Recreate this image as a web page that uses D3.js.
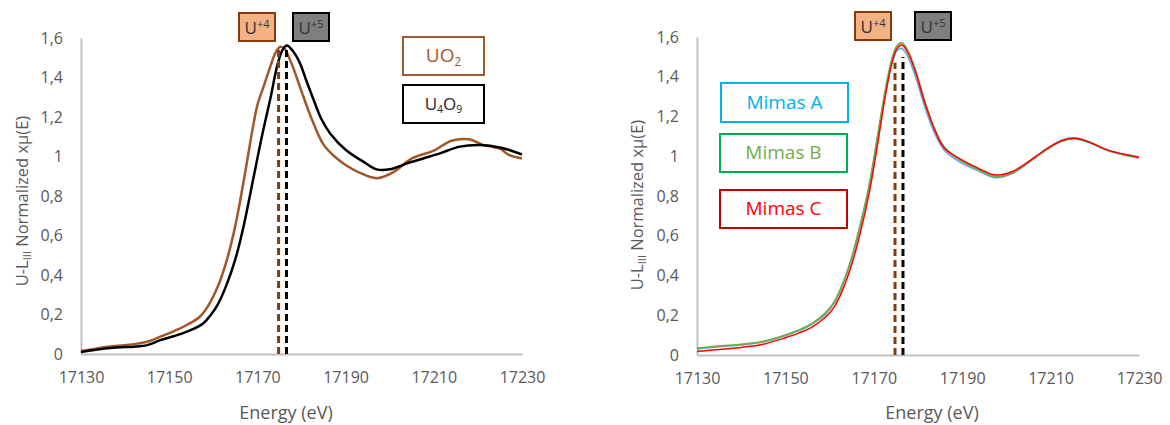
<!DOCTYPE html>
<html><head><meta charset="utf-8">
<script src="https://cdn.jsdelivr.net/npm/d3@7"></script>
<style>
body{margin:0;background:#fff;}
svg{display:block;font-family:"Open Sans",sans-serif;}
</style></head>
<body><svg id="c" width="1170" height="425"></svg>
<script>
// ---------- data ----------
const xTicks = [17130, 17150, 17170, 17190, 17210, 17230];
const yTicks = [0, 0.2, 0.4, 0.6, 0.8, 1, 1.2, 1.4, 1.6];

const energyUO2 = [17130,17133,17136,17139,17142,17145,17148,17151,17154,17157,17159,17161,17163,17165,17167,17169,17170,17171.5,17173,17174.2,17175.2,17176.2,17177.2,17178.2,17180,17182.5,17185,17187.5,17190,17193,17197,17201,17205,17210,17214,17218,17221,17223,17225,17227,17230];
const valuesUO2 = [0.015,0.025,0.037,0.043,0.05,0.062,0.088,0.115,0.147,0.19,0.25,0.34,0.47,0.65,0.89,1.15,1.26,1.36,1.46,1.53,1.556,1.545,1.5,1.445,1.33,1.18,1.06,1.0,0.957,0.92,0.89,0.923,0.99,1.03,1.08,1.087,1.06,1.05,1.04,1.008,0.99];

const energyU4O9 = [17130,17133,17136,17139,17142,17145,17148,17151,17154,17157.7,17159.5,17161,17163,17165,17167,17169,17171,17173,17174.5,17175.7,17176.7,17178,17179.7,17181,17182.7,17184.5,17186.5,17190.2,17194,17197,17200,17203.9,17207.6,17211.4,17215.9,17220.5,17225,17230];
const valuesU4O9 = [0.01,0.02,0.029,0.034,0.037,0.045,0.07,0.09,0.113,0.155,0.2,0.25,0.35,0.48,0.66,0.88,1.1,1.3,1.46,1.54,1.562,1.535,1.47,1.39,1.29,1.19,1.117,1.03,0.974,0.935,0.935,0.965,0.99,1.016,1.05,1.058,1.046,1.01];

const energyMimas = [17130,17135,17140,17145,17150,17153,17156,17159,17161,17163,17165,17167,17169,17171,17172.5,17174,17175.2,17176.3,17177.5,17179.3,17181.6,17183.8,17186,17190,17193.6,17197.4,17201.2,17205,17208.7,17212.5,17215.5,17218.5,17223,17227.6,17230];
const mimasA = [0.03,0.042,0.051,0.066,0.098,0.122,0.155,0.205,0.26,0.355,0.485,0.655,0.85,1.11,1.3,1.46,1.53,1.543,1.51,1.41,1.245,1.115,1.03,0.965,0.928,0.893,0.912,0.968,1.03,1.08,1.092,1.072,1.028,1.002,0.99];
const mimasB = [0.034,0.045,0.053,0.068,0.1,0.125,0.158,0.21,0.265,0.36,0.49,0.66,0.86,1.12,1.32,1.48,1.555,1.571,1.54,1.44,1.27,1.135,1.045,0.975,0.935,0.898,0.915,0.97,1.028,1.076,1.088,1.072,1.03,1.004,0.994];
const mimasC = [0.017,0.028,0.038,0.054,0.087,0.11,0.14,0.19,0.24,0.33,0.455,0.62,0.82,1.08,1.29,1.46,1.54,1.56,1.53,1.434,1.266,1.132,1.04,0.98,0.94,0.906,0.922,0.973,1.031,1.078,1.09,1.073,1.031,1.006,0.995];

const markerEnergy = [17174.8, 17176.6];          // U+4, U+5 white lines
const markerTopLeft = [1.54, 1.55];
const markerTopRight = [1.47, 1.50];

// ---------- drawing ----------
const svg = d3.select("#c");
const fmt = v => String(v).replace(".", ",");

function panel(o) {
  const x = d3.scaleLinear().domain([17130, 17230]).range([o.x0, o.x1]);
  const y = d3.scaleLinear().domain([0, 1.6]).range([o.y0, o.y1]);
  const g = svg.append("g");

  // axes
  const ax = g.append("g").attr("transform", `translate(0,${o.y0})`)
    .call(d3.axisBottom(x).tickValues(xTicks).tickSize(0).tickPadding(18).tickFormat(d => d));
  const ay = g.append("g").attr("transform", `translate(${o.x0},0)`)
    .call(d3.axisLeft(y).tickValues(yTicks).tickSize(0).tickPadding(18).tickFormat(fmt));
  [ax, ay].forEach(a => {
    a.select(".domain").attr("stroke", "#bfbfbf").attr("stroke-width", 2);
    a.selectAll("text").attr("fill", "#595959").style("font-size", "16px").style("font-family", "Open Sans");
  });

  // axis titles
  g.append("text").attr("x", o.xlab).attr("y", 419).attr("text-anchor", "middle")
    .attr("fill", "#595959").style("font-size", "18px").text("Energy (eV)");
  const yl = g.append("text").attr("transform", `translate(${o.ylabX},${o.ylabY}) rotate(-90)`)
    .attr("text-anchor", "middle").attr("fill", "#595959").style("font-size", "16.5px");
  yl.append("tspan").text("U-L");
  yl.append("tspan").attr("baseline-shift", "-25%").style("font-size", "11px").text("III");
  yl.append("tspan").text(" Normalized xμ(E)");

  // curves
  const line = d3.line().curve(d3.curveCatmullRom.alpha(0.5)).x(d => x(d[0])).y(d => y(d[1]));
  o.series.forEach(s => {
    g.append("path").datum(s.e.map((e, i) => [e, s.v[i]]))
      .attr("d", line).attr("fill", "none").attr("stroke", s.color)
      .attr("stroke-width", s.w).attr("stroke-linejoin", "round");
  });

  // dashed marker lines
  const mcol = ["#843c0c", "#000"];
  markerEnergy.forEach((e, i) => {
    g.append("line").attr("x1", x(e)).attr("x2", x(e)).attr("y1", y(0)).attr("y2", y(o.tops[i]))
      .attr("stroke", mcol[i]).attr("stroke-width", 3).attr("stroke-dasharray", "7,4");
  });

  // U+4 / U+5 tags
  const tags = [{t: "+4", fill: "#f4b183", stroke: "#843c0c"}, {t: "+5", fill: "#7f7f7f", stroke: "#000"}];
  tags.forEach((tg, i) => {
    const bx = o.tagX[i];
    g.append("rect").attr("x", bx).attr("y", o.tagY).attr("width", 36).attr("height", 28)
      .attr("fill", tg.fill).attr("stroke", tg.stroke).attr("stroke-width", 2);
    const t = g.append("text").attr("x", bx + 18).attr("y", o.tagY + 21).attr("text-anchor", "middle")
      .attr("fill", "#333").style("font-size", "17px");
    t.append("tspan").text("U");
    t.append("tspan").attr("dy", -6).style("font-size", "11px").text(tg.t);
  });

  // label boxes
  o.boxes.forEach(b => {
    g.append("rect").attr("x", b.x).attr("y", b.y).attr("width", b.w).attr("height", b.h)
      .attr("fill", "#fff").attr("stroke", b.stroke).attr("stroke-width", 2);
    const t = g.append("text").attr("x", b.x + b.w / 2).attr("y", b.y + b.h / 2 + 6)
      .attr("text-anchor", "middle").attr("fill", b.color).style("font-size", b.fs + "px");
    b.parts.forEach(p => {
      const ts = t.append("tspan").text(p[0]);
      if (p[1]) ts.attr("baseline-shift", "-30%").style("font-size", (b.fs * 0.62) + "px");
    });
  });
}

panel({
  x0: 81, x1: 522, y0: 354, y1: 38, xlab: 286, ylabX: 28, ylabY: 201,
  tops: markerTopLeft, tagX: [239, 293], tagY: 13,
  series: [
    {e: energyUO2, v: valuesUO2, color: "#a0572a", w: 2.5},
    {e: energyU4O9, v: valuesU4O9, color: "#000", w: 2.5}
  ],
  boxes: [
    {x: 403, y: 37, w: 81, h: 38, stroke: "#9c5a2e", color: "#a0572a", fs: 19, parts: [["UO"], ["2", 1]]},
    {x: 403, y: 85, w: 81, h: 38, stroke: "#000", color: "#262626", fs: 17, parts: [["U"], ["4", 1], ["O"], ["9", 1]]}
  ]
});

panel({
  x0: 697, x1: 1139, y0: 355, y1: 37, xlab: 932, ylabX: 643, ylabY: 205,
  tops: markerTopRight, tagX: [855, 915], tagY: 12,
  series: [
    {e: energyMimas, v: mimasA, color: "#6fa8dc", w: 1.8},
    {e: energyMimas, v: mimasB, color: "#70ad47", w: 1.8},
    {e: energyMimas, v: mimasC, color: "#ff0000", w: 1.5}
  ],
  boxes: [
    {x: 721, y: 83, w: 127, h: 39, stroke: "#00b0f0", color: "#00b0f0", fs: 19, parts: [["Mimas A"]]},
    {x: 720, y: 134, w: 127, h: 38, stroke: "#00b050", color: "#70ad47", fs: 19, parts: [["Mimas B"]]},
    {x: 720, y: 190, w: 127, h: 38, stroke: "#c00000", color: "#ff0000", fs: 19, parts: [["Mimas C"]]}
  ]
});
</script></body></html>
